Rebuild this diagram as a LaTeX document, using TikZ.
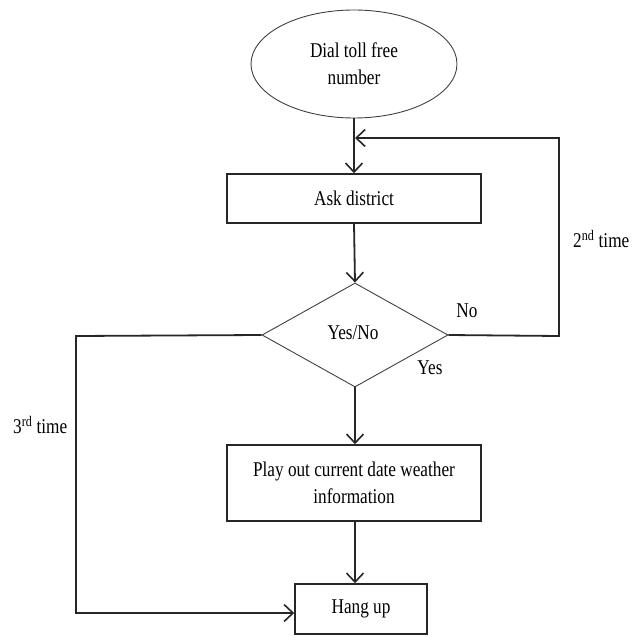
\documentclass[tikz,border=0pt]{standalone}
\usepackage{fontspec}
\setmainfont{Liberation Serif}[FakeStretch=0.82]
\usetikzlibrary{shapes.geometric,arrows.meta}
\begin{document}
\begin{tikzpicture}[x=1pt,y=-1pt,
  every node/.style={font=\fontsize{21}{27}\selectfont},
  procbox/.style={draw=black!85, line width=1.6pt, rectangle, inner sep=0pt, align=center},
  thin outline/.style={draw=black!75, line width=0.9pt, inner sep=0pt, align=center},
  flow/.style={draw=black!85, line width=1.8pt, -{Straight Barb[length=9pt,width=17pt,line width=1.6pt]}},
  plainline/.style={draw=black!85, line width=1.8pt},
  lbl/.style={inner sep=0pt}]
  \useasboundingbox (0,0) rectangle (644,636);

  % main column
  \node[thin outline, ellipse, minimum width=206pt, minimum height=108pt] (start) at (354,64) {Dial toll free\\number};
  \node[procbox, minimum width=254pt, minimum height=49pt] (ask) at (354,198.5) {Ask district};
  \node[thin outline, diamond, aspect=1.8, minimum width=186pt, minimum height=104pt] (dec) at (355,335) {};
  \node[lbl] (yn) at (353,333) {Yes/No};
  \node[procbox, minimum width=254pt, minimum height=76pt] (play) at (354,483) {Play out current date weather\\information};
  \node[procbox, minimum width=132pt, minimum height=50pt] (hang) at (361,609) {Hang up};

  % labels
  \node[lbl] (no) at (467,311) {No};
  \node[lbl] (yes) at (430,368) {Yes};
  \node[lbl, anchor=west] (second) at (573,239) {2\textsuperscript{nd} time};
  \node[lbl, anchor=west] (third) at (13,425) {3\textsuperscript{rd} time};

  % turning points of the loops
  \coordinate (fbR) at (559,336);
  \coordinate (fbT) at (559,138);
  \coordinate (lpL) at (76,336);
  \coordinate (lpB) at (76,613);

  % connectors
  \draw[flow] (start.south) -- (ask.north);
  \draw[flow] (ask.south) -- (dec.north);
  \draw[flow] (dec.south) -- (dec.south |- play.north);
  \draw[flow] (dec.south |- play.south) -- (dec.south |- hang.north);
  \draw[flow] (dec.east) -- (fbR) -- (fbT) -- ([xshift=1pt]start.south |- fbT);
  \draw[flow] (dec.west) -- (lpL) -- (lpB) -- (hang.west |- lpB);
\end{tikzpicture}
\end{document}
